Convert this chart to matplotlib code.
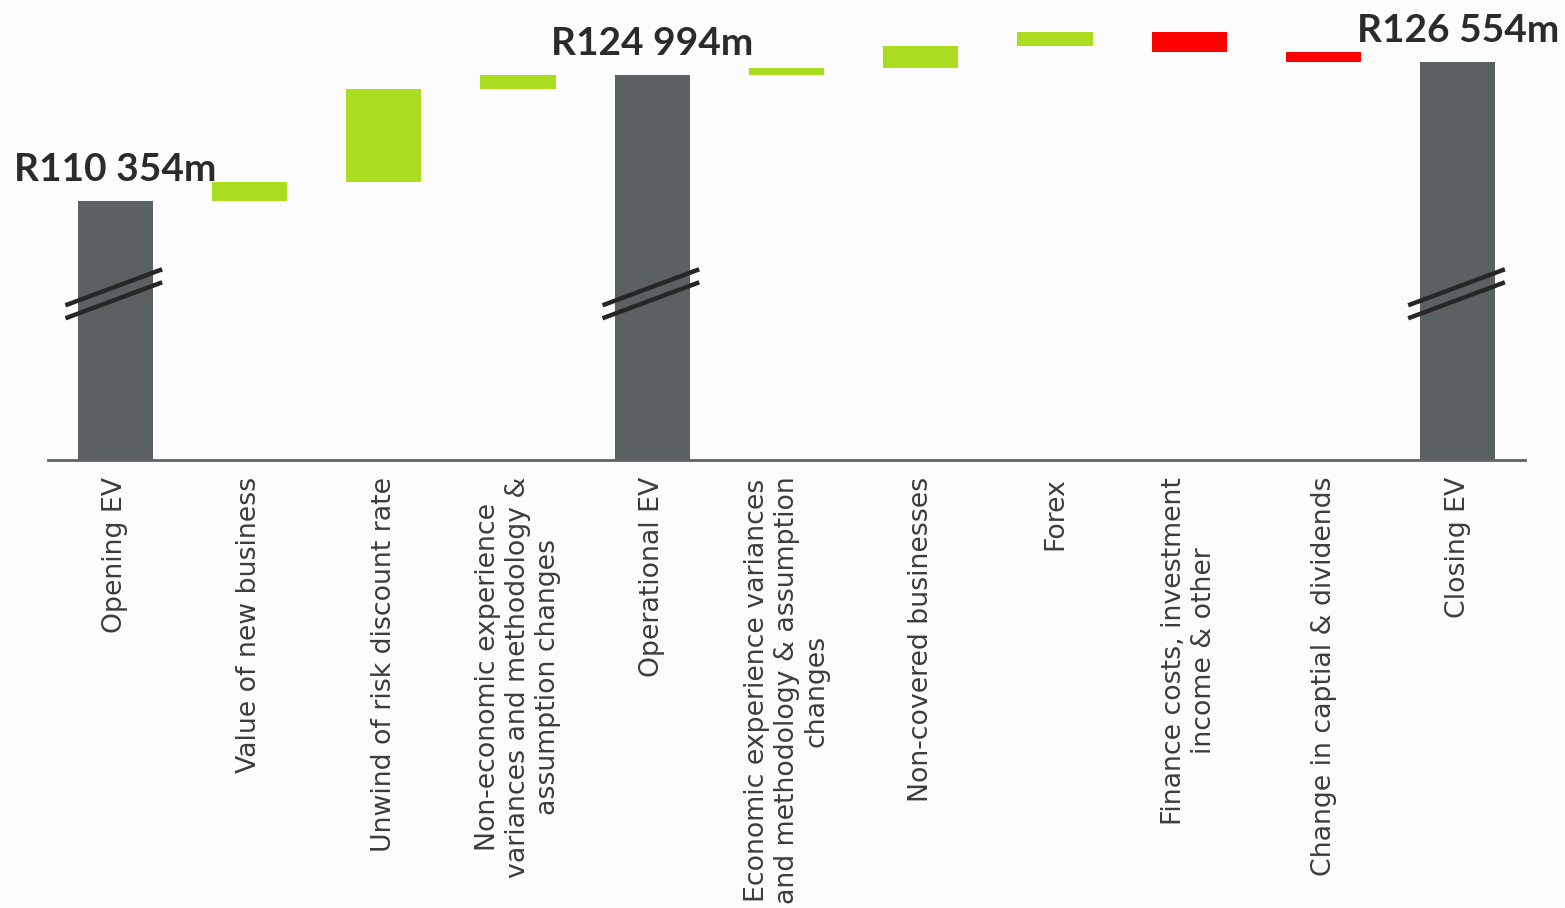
import numpy as np
import matplotlib
import matplotlib.pyplot as plt

# %% data (R million)

labels = ['Opening EV',
          'Value of new business',
          'Unwind of risk discount rate',
          'Non-economic experience\nvariances and methodology &\nassumption changes',
          'Operational EV',
          'Economic experience variances\nand methodology & assumption\nchanges',
          'Non-covered businesses',
          'Forex',
          'Finance costs, investment\nincome & other',
          'Change in captial & dividends',
          'Closing EV']

opening_ev = 110354
steps_a = [2220, 10820, 1600]              # up to operational EV
operational_ev = 124994
steps_b = [900, 2550, 1570, -2330, -1130]  # up to closing EV
closing_ev = 126554

total_text = ['R110 354m', 'R124 994m', 'R126 554m']

# %% style

c_total = '#5b6063'
c_up = '#acdc1f'
c_down = '#ff0000'
c_text = '#3c3c3c'
bg = '#fcfcfc'

y_floor = 80180      # axis cut, bars are broken
y_break = 100300     # where the // marks sit

matplotlib.rc('font', family='DejaVu Sans')

fig = plt.figure(figsize=(15.65, 9.08), dpi=100, facecolor=bg)
ax = fig.add_axes([48/1565, 448/908, 1477/1565, 460/908])
ax.set_facecolor(bg)

# build bottoms / heights for the waterfall
bottoms, heights, colors = [], [], []
bottoms.append(y_floor); heights.append(opening_ev - y_floor); colors.append(c_total)
level = opening_ev
for s in steps_a:
    bottoms.append(min(level, level + s)); heights.append(abs(s))
    colors.append(c_up if s > 0 else c_down)
    level += s
bottoms.append(y_floor); heights.append(operational_ev - y_floor); colors.append(c_total)
level = operational_ev
for s in steps_b:
    bottoms.append(min(level, level + s)); heights.append(abs(s))
    colors.append(c_up if s > 0 else c_down)
    level += s
bottoms.append(y_floor); heights.append(closing_ev - y_floor); colors.append(c_total)

x = np.arange(len(labels))
ax.bar(x, heights, bottom=bottoms, width=0.56, color=colors, zorder=2)

# totals: value on top + break marks
totals_idx = [0, 4, 10]
totals_val = [opening_ev, operational_ev, closing_ev]
yr = 116.5  # data units per pixel
for i, v, t in zip(totals_idx, totals_val, total_text):
    ax.annotate(t, (i, v), xytext=(0, 10), textcoords='offset points',
                ha='center', va='bottom', fontsize=28, fontweight='bold',
                color='#2b2b2b', family='Lato')
    for off in (0, -13):
        ax.plot([i - 0.37, i + 0.35],
                [y_break + (off - 18) * yr, y_break + (off + 18) * yr],
                color='#262626', lw=3.2, solid_capstyle='butt', zorder=3,
                clip_on=False)

ax.set_xlim(-0.5, 10.5)
ax.set_ylim(y_floor, y_floor + 460 * yr)
for side in ['top', 'right', 'left']:
    ax.spines[side].set_visible(False)
ax.spines['bottom'].set_color('#5e6366')
ax.spines['bottom'].set_linewidth(2)
ax.set_yticks([])
ax.set_xticks(x)
ax.set_xticklabels(labels, rotation=90, ha='center', va='top',
                   multialignment='center', fontsize=19.3, color=c_text)
ax.tick_params(axis='x', length=0, pad=12)

plt.savefig('out.png', dpi=100, facecolor=bg)
plt.close()
